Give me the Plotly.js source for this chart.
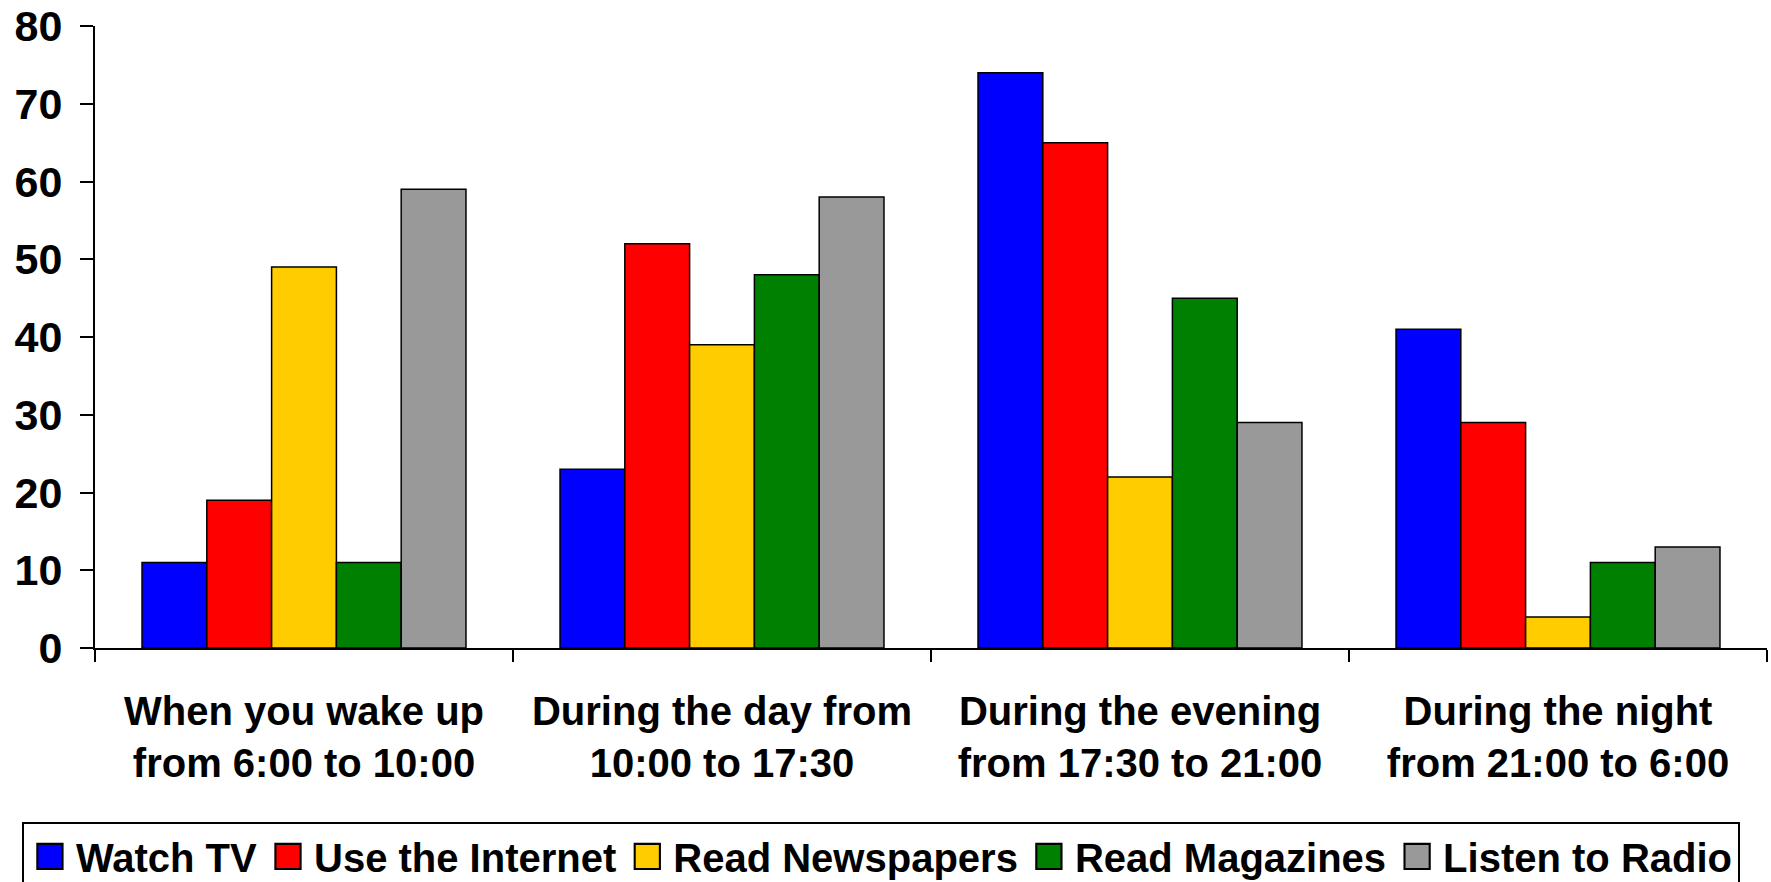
<!DOCTYPE html>
<html>
<head>
<meta charset="utf-8">
<script src="https://cdn.plot.ly/plotly-3.0.1.min.js"></script>
<style>
  html, body { margin: 0; padding: 0; background: #ffffff; }
  #chart { width: 1771px; height: 882px; }
</style>
</head>
<body>
<div id="chart"></div>
<script>
// Time-of-day periods (category axis)
const periods = [
  "When you wake up<br>from 6:00 to 10:00",
  "During the day from<br>10:00 to 17:30",
  "During the evening<br>from 17:30 to 21:00",
  "During the night<br>from 21:00 to 6:00"
];

// Share of respondents per activity, one value per period
const watchTV        = [11, 23, 74, 41];
const useInternet    = [19, 52, 65, 29];
const readNewspapers = [49, 39, 22, 4];
const readMagazines  = [11, 48, 45, 11];
const listenRadio    = [59, 58, 29, 13];

const seriesNames  = ["Watch TV", "Use the Internet", "Read Newspapers", "Read Magazines", "Listen to Radio"];
const seriesValues = [watchTV, useInternet, readNewspapers, readMagazines, listenRadio];
const seriesColors = ["#0000FF", "#FF0000", "#FFCC00", "#008000", "#999999"];

const FONT = "Liberation Sans, Arial, Helvetica, sans-serif";

const traces = seriesNames.map((name, i) => ({
  type: "bar",
  name: name,
  x: periods,
  y: seriesValues[i],
  marker: { color: seriesColors[i], line: { color: "#000000", width: 1.5 } },
  hoverinfo: "x+y+name"
}));

const layout = {
  width: 1771,
  height: 882,
  margin: { l: 95, r: 4, t: 26, b: 234, autoexpand: false },
  paper_bgcolor: "#ffffff",
  plot_bgcolor: "#ffffff",
  barmode: "group",
  bargap: 0.225,
  bargroupgap: 0,
  showlegend: true,
  font: { family: FONT, color: "#000000" },
  xaxis: {
    type: "category",
    automargin: false,
    showgrid: false,
    zeroline: false,
    showline: true,
    linecolor: "#000000",
    linewidth: 2,
    ticks: "outside",
    tickson: "boundaries",
    ticklen: 12,
    tickwidth: 1.5,
    tickcolor: "#000000",
    tickfont: { family: FONT, size: 40, weight: "bold", color: "#000000" },
    ticklabelstandoff: 27
  },
  yaxis: {
    range: [0, 80],
    dtick: 10,
    automargin: false,
    showgrid: false,
    zeroline: false,
    showline: true,
    linecolor: "#000000",
    linewidth: 2,
    ticks: "outside",
    ticklen: 13,
    tickwidth: 2,
    tickcolor: "#000000",
    tickfont: { family: FONT, size: 43, weight: "bold", color: "#000000" },
    ticklabelstandoff: 9
  },
  legend: {
    orientation: "h",
    x: -0.0437,
    xanchor: "left",
    y: -0.2797,
    yanchor: "top",
    itemwidth: 42,
    bordercolor: "#000000",
    borderwidth: 2,
    bgcolor: "#ffffff",
    font: { family: FONT, size: 40, weight: "bold", color: "#000000" },
    traceorder: "normal"
  }
};

Plotly.newPlot("chart", traces, layout, { displayModeBar: false, responsive: false }).then(gd => {
  // enlarge the square legend swatches
  gd.querySelectorAll(".legendpoints path").forEach(p => {
    const t = p.getAttribute("transform") || "";
    p.setAttribute("transform", t + " scale(2.1)");
    p.style.strokeWidth = "1px";
  });
});
</script>
</body>
</html>
